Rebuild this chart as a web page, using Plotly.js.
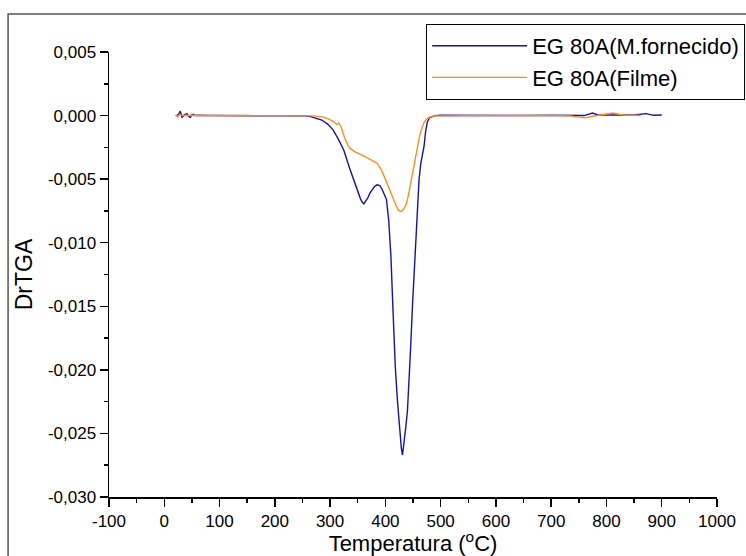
<!DOCTYPE html>
<html>
<head>
<meta charset="utf-8">
<script src="https://cdn.plot.ly/plotly-3.0.1.min.js"></script>
<style>html,body{margin:0;padding:0;background:#fff;}#chart{width:746px;height:556px;}</style>
</head>
<body>
<div id="chart"></div>
<script>
// Series 1: EG 80A(M.fornecido) — temperature (°C) and DrTGA
var tempFornecido = [22, 26, 29, 32, 36, 41, 44, 47, 50, 53, 56, 60, 80, 120, 160, 200, 240, 255, 265, 275, 285, 295, 305, 315, 325, 335, 345, 350, 355, 358, 361, 364, 368, 372, 376, 380, 385, 390, 394, 398, 402, 406, 410, 414, 418, 422, 426, 429, 431, 434, 437, 440, 443, 446, 449, 452, 455, 458, 461, 464, 467, 470, 473, 476, 480, 485, 490, 500, 550, 600, 650, 700, 740, 760, 775, 785, 800, 830, 850, 872, 885, 900];
var drtgaFornecido = [0.0, 0.1, 0.35, -0.15, 0.05, 0.15, -0.05, -0.15, 0.05, 0.1, 0.0, 0.02, 0, 0, 0, 0, 0, -0.02, -0.08, -0.2, -0.35, -0.65, -1.1, -1.85, -2.75, -4.1, -5.4, -6.0, -6.55, -6.8, -6.95, -6.75, -6.5, -6.1, -5.8, -5.6, -5.45, -5.5, -5.8, -6.2, -6.6, -8.2, -11.0, -15.5, -19.8, -22.5, -25.0, -26.2, -26.7, -25.8, -24.5, -23.2, -21.0, -18.0, -15.0, -12.2, -9.5, -7.0, -5.0, -3.8, -3.1, -2.4, -1.2, -0.5, -0.15, -0.05, 0, 0.02, 0.0, 0.02, 0.0, 0.03, 0, 0.0, 0.2, 0.05, 0.05, 0.02, 0.05, 0.15, 0.02, 0.05];

// Series 2: EG 80A(Filme)
var tempFilme = [20, 24, 28, 32, 40, 60, 100, 150, 200, 250, 270, 285, 295, 305, 312, 316, 320, 326, 332, 337, 345, 355, 365, 375, 385, 392, 400, 408, 414, 420, 424, 427, 430, 434, 438, 442, 446, 450, 454, 458, 462, 466, 470, 475, 482, 490, 520, 600, 700, 735, 750, 762, 775, 790, 800, 812, 822, 835, 850, 862];
var drtgaFilme = [0.05, -0.1, 0.08, 0, 0.02, 0, 0, 0, 0, 0, -0.02, -0.1, -0.22, -0.45, -0.7, -0.6, -0.9, -1.7, -2.3, -2.6, -2.85, -3.05, -3.25, -3.5, -3.75, -4.2, -5.0, -5.8, -6.5, -7.15, -7.45, -7.55, -7.5, -7.3, -6.95, -6.2, -5.3, -4.3, -3.3, -2.4, -1.6, -1.0, -0.55, -0.25, -0.08, -0.02, 0, 0, 0, -0.02, -0.12, -0.18, -0.05, 0.05, 0.15, 0.2, 0.1, 0.02, 0.02, 0];

var seriesNames = ['EG 80A(M.fornecido)', 'EG 80A(Filme)'];

// Tick labels
var xTickVals = [-100, 0, 100, 200, 300, 400, 500, 600, 700, 800, 900, 1000];
var xTickText = ['-100', '0', '100', '200', '300', '400', '500', '600', '700', '800', '900', '1000'];
var yTickVals = [0.005, 0, -0.005, -0.010, -0.015, -0.020, -0.025, -0.030];
var yTickText = ['0,005', '0,000', '-0,005', '-0,010', '-0,015', '-0,020', '-0,025', '-0,030'];

function scale(arr) { return arr.map(function (v) { return v / 1000; }); }

var traces = [
  {
    x: tempFornecido, y: scale(drtgaFornecido), name: seriesNames[0],
    type: 'scatter', mode: 'lines',
    line: {color: '#1414a0', width: 1.4}
  },
  {
    x: tempFilme, y: scale(drtgaFilme), name: seriesNames[1],
    type: 'scatter', mode: 'lines',
    line: {color: '#ff8c1a', width: 1.4}
  }
];

var fontFam = 'Liberation Sans, Arial, sans-serif';

var layout = {
  width: 746, height: 556,
  margin: {l: 109, r: 29, t: 52, b: 59, autoexpand: false},
  paper_bgcolor: '#ffffff', plot_bgcolor: '#ffffff',
  font: {family: fontFam, color: '#000', size: 17},
  showlegend: true,
  legend: {
    x: 0.5216, y: 1.063, xanchor: 'left', yanchor: 'top',
    bordercolor: '#000', borderwidth: 1, bgcolor: '#fff',
    font: {family: fontFam, size: 22, color: '#000'},
    itemwidth: 95, tracegroupgap: 0
  },
  xaxis: {
    range: [-100, 1000], autorange: false,
    showgrid: false, zeroline: false,
    showline: true, linecolor: '#000', linewidth: 1.5,
    ticks: 'outside', ticklen: 8, tickwidth: 1.5, tickcolor: '#000',
    tickmode: 'array', tickvals: xTickVals, ticktext: xTickText,
    tickfont: {family: fontFam, size: 17, color: '#000'},
    minor: {dtick: 50, tick0: 0, ticks: 'outside', ticklen: 4, tickwidth: 1.5, tickcolor: '#000', showgrid: false},
    title: {text: 'Temperatura (<sup>o</sup>C)', font: {family: fontFam, size: 22, color: '#000'}, standoff: 0},
    automargin: false
  },
  yaxis: {
    range: [-0.030, 0.005], autorange: false,
    showgrid: false, zeroline: false,
    showline: true, linecolor: '#000', linewidth: 1.5,
    ticks: 'outside', ticklen: 8, tickwidth: 1.5, tickcolor: '#000',
    tickmode: 'array', tickvals: yTickVals, ticktext: yTickText,
    tickfont: {family: fontFam, size: 17, color: '#000'},
    minor: {dtick: 0.0025, tick0: 0, ticks: 'outside', ticklen: 4, tickwidth: 1.5, tickcolor: '#000', showgrid: false},
    title: {text: 'DrTGA', font: {family: fontFam, size: 23, color: '#000'}, standoff: 9},
    automargin: false
  },
  shapes: [{
    type: 'rect', xref: 'paper', yref: 'paper',
    x0: -0.166, x1: 1.2, y0: -0.3, y1: 1.0854,
    line: {color: '#555', width: 1.5}, fillcolor: 'rgba(0,0,0,0)', layer: 'below'
  }]
};

Plotly.newPlot('chart', traces, layout, {displayModeBar: false, staticPlot: true});
</script>
</body>
</html>
